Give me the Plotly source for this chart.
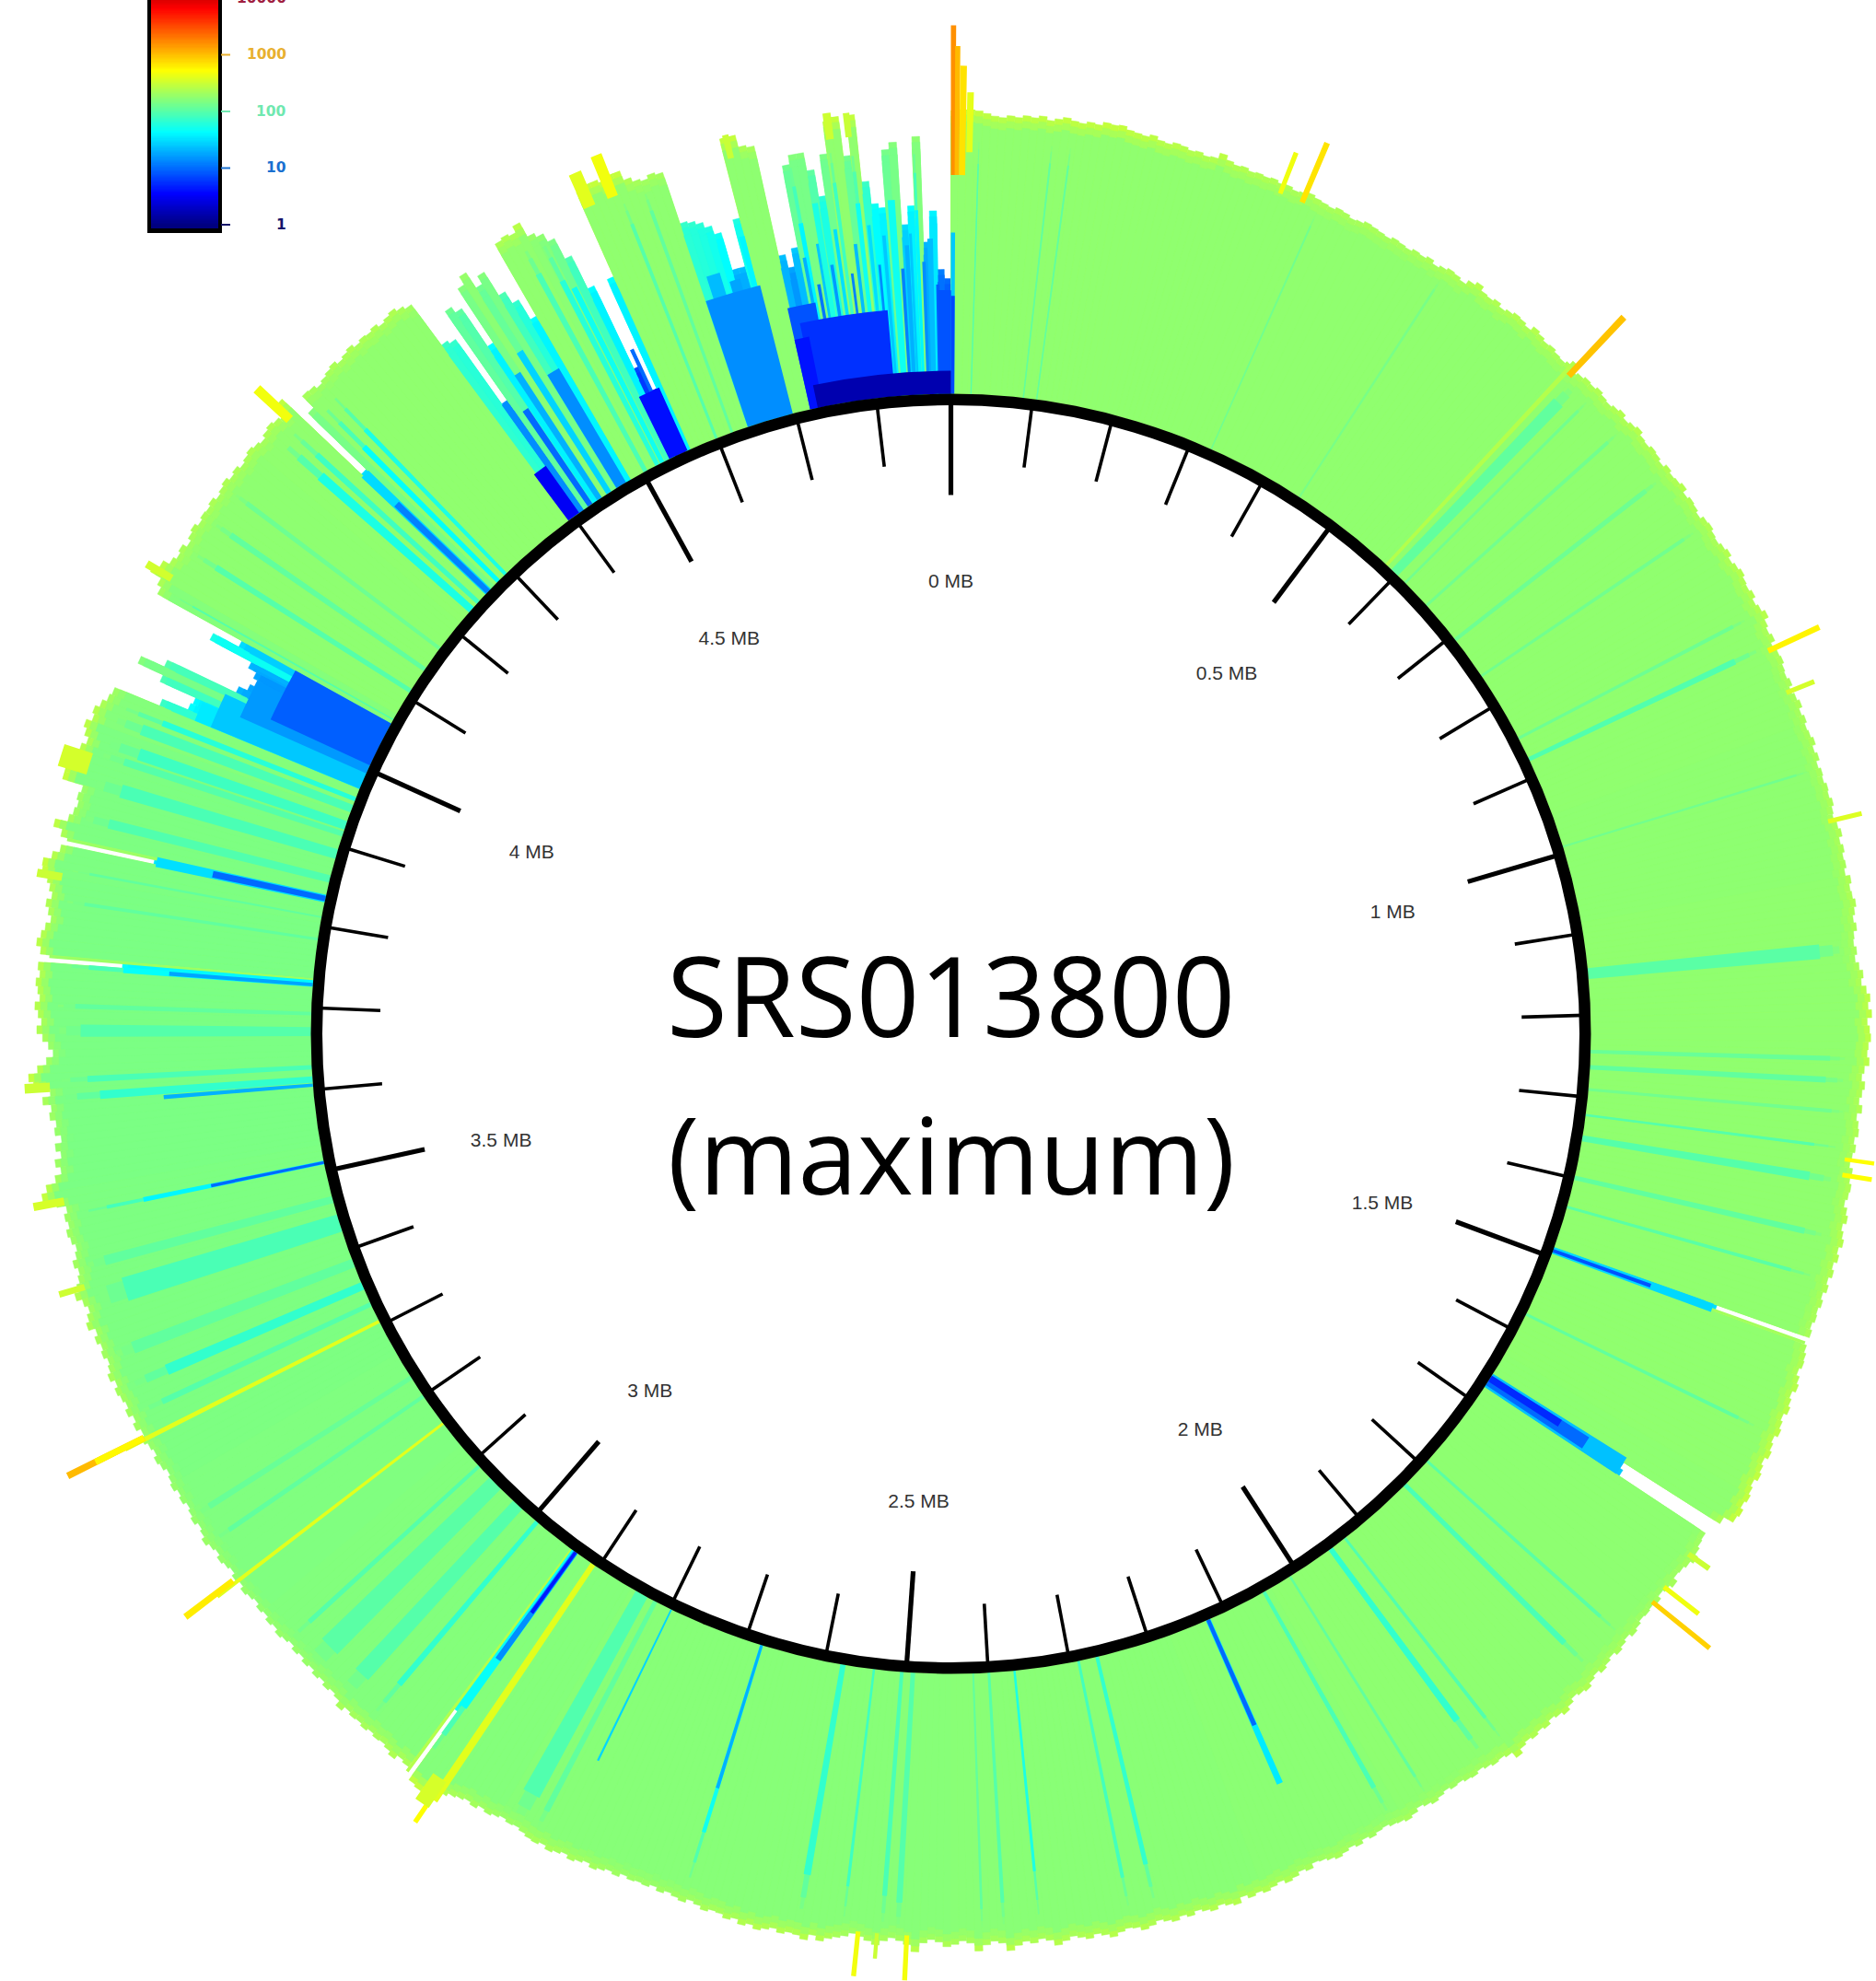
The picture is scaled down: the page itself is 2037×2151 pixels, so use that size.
import math
import numpy as np
import plotly.graph_objects as go

W, H = 2037, 2151
CX, CY = 1032.5, 1122.5      # circle centre on the page
RING_PX, PX_PER_DECADE = 695.0, 125.0
LOW = -RING_PX / PX_PER_DECADE
CMIN, CMAX = 0.0, 4.36
GENOME_MB = 4.891
JET = [[0, "#000080"], [0.125, "#0000ff"], [0.375, "#00ffff"], [0.625, "#ffff00"], [0.875, "#ff0000"], [1, "#800000"]]

# log10(maximum coverage) at the outer edge, one value per half degree clockwise from 0 MB
rim = [
 2.46,2.47,2.47,2.46,2.44,2.42,2.41,2.43,2.42,2.44,2.43,2.45,2.42,2.44,2.46,2.44,2.43,2.45,2.44,2.47,
 2.46,2.47,2.44,2.43,2.42,2.44,2.41,2.40,2.42,2.41,2.39,2.40,2.38,2.39,2.44,2.40,2.38,2.39,2.37,2.38,
 2.37,2.38,2.36,2.37,2.35,2.36,2.38,2.36,2.35,2.34,2.36,2.35,2.33,2.34,2.36,2.35,2.34,2.33,2.35,2.34,
 2.33,2.35,2.34,2.36,2.33,2.35,2.37,2.36,2.34,2.38,2.41,2.37,2.36,2.38,2.35,2.37,2.39,2.38,2.36,2.40,
 2.38,2.36,2.37,2.35,2.34,2.36,2.33,2.35,2.37,2.36,2.38,2.36,2.35,2.37,2.39,2.36,2.38,2.40,2.37,2.36,
 2.38,2.37,2.35,2.38,2.36,2.37,2.39,2.35,2.37,2.36,2.34,2.37,2.38,2.36,2.35,2.37,2.39,2.36,2.38,2.40,
 2.38,2.37,2.39,2.36,2.38,2.41,2.37,2.35,2.37,2.33,2.35,2.36,2.34,2.33,2.35,2.32,2.34,2.36,2.33,2.35,
 2.33,2.34,2.36,2.33,2.35,2.32,2.34,2.33,2.35,2.34,2.36,2.34,2.33,2.35,2.37,2.34,2.36,2.34,2.35,2.33,
 2.37,2.35,2.36,2.38,2.36,2.34,2.36,2.33,2.32,2.34,2.32,2.35,2.38,2.36,2.40,2.43,2.41,2.44,2.40,2.42,
 2.43,2.41,2.40,2.42,2.38,2.36,2.39,2.37,2.35,2.38,2.34,2.36,2.37,2.34,2.36,2.34,2.33,2.36,2.35,2.37,
 2.36,2.34,2.37,2.39,2.36,2.38,2.40,2.37,2.39,2.36,2.38,2.35,2.37,2.34,2.36,2.34,2.35,2.33,2.35,1.50,
 2.35,2.37,2.38,2.36,2.39,2.41,2.38,2.40,2.42,2.39,2.41,2.43,2.40,2.42,2.44,2.41,2.43,2.45,2.42,2.44,
 2.46,2.44,2.47,2.45,2.36,1.37,1.40,2.30,2.31,2.33,2.36,2.33,2.31,2.30,2.34,2.31,2.29,2.32,2.30,2.31,
 2.30,2.32,2.34,2.31,2.33,2.35,2.32,2.34,2.36,2.33,2.35,2.38,2.36,2.34,2.37,2.40,2.37,2.35,2.38,2.36,
 2.38,2.36,2.38,2.42,2.36,2.34,2.35,2.33,2.31,2.33,2.32,2.30,2.31,2.29,2.31,2.33,2.31,2.29,2.32,2.34,
 2.32,2.31,2.29,2.30,2.32,2.30,2.33,2.31,2.33,2.35,2.33,2.31,2.30,2.34,2.32,2.35,2.37,2.34,2.36,2.38,
 2.36,2.38,2.35,2.40,2.38,2.36,2.39,2.37,2.35,2.38,2.36,2.39,2.37,2.35,2.38,2.40,2.37,2.36,2.38,2.41,
 2.38,2.36,2.39,2.37,2.35,2.38,2.41,2.36,2.34,2.37,2.35,2.38,2.42,2.35,2.33,2.36,2.41,2.34,2.32,2.35,
 2.37,2.33,2.31,2.34,2.42,2.36,2.33,2.31,2.34,2.38,2.35,2.32,2.30,2.33,2.35,2.37,2.40,2.36,2.41,2.38,
 2.37,2.39,2.36,2.38,2.40,2.37,2.39,2.35,2.37,2.34,2.33,2.35,2.32,2.30,2.33,2.31,2.29,2.31,2.28,2.30,
 2.29,2.30,2.28,2.31,2.29,2.31,2.33,2.30,2.32,2.34,2.31,2.33,2.35,2.32,2.34,2.33,2.31,2.29,2.30,2.28,
 2.30,2.32,2.30,2.33,2.31,2.33,2.35,2.38,2.46,2.47,2.47,2.45,1.72,2.36,2.34,2.38,2.35,2.33,2.34,2.32,
 2.34,2.32,2.33,2.31,2.35,2.30,2.28,2.30,2.27,2.29,2.26,2.28,2.25,2.27,2.24,2.26,2.28,2.25,2.27,2.24,
 2.26,2.23,2.25,2.27,2.24,2.26,2.23,2.25,2.27,2.24,2.26,2.29,2.26,2.24,2.27,2.25,2.23,2.26,2.24,2.27,
 2.25,2.23,2.26,2.28,2.25,2.27,2.30,2.27,2.31,2.28,2.32,2.29,2.31,2.33,2.30,2.34,2.31,2.29,2.32,2.30,
 2.33,2.30,2.36,2.33,2.30,2.33,2.38,2.34,2.31,2.29,2.32,2.28,2.26,2.29,2.31,2.28,2.30,2.27,2.35,2.46,
 2.41,2.32,2.26,2.30,2.24,2.28,2.22,2.27,2.25,2.30,2.28,2.35,2.28,2.42,2.46,2.38,2.30,2.24,2.28,2.33,
 2.38,2.34,2.37,2.40,2.36,2.38,2.40,2.37,2.39,1.66,2.38,2.42,2.39,2.36,2.32,2.35,2.38,2.34,2.37,2.40,
 2.46,2.47,2.40,2.34,1.52,2.36,2.44,2.33,2.30,2.28,2.30,2.28,2.47,2.47,2.47,2.47,2.40,2.36,2.40,2.43,
 2.38,2.40,2.36,2.32,2.30,1.88,1.64,1.62,1.96,2.20,1.98,1.32,1.24,1.20,1.24,1.32,1.73,1.48,2.32,2.36,
 2.47,2.42,2.36,2.33,2.35,2.31,2.34,2.36,2.33,2.35,2.34,2.36,2.33,2.35,2.37,2.34,2.36,2.33,2.35,2.37,
 2.35,2.33,2.36,2.38,2.36,2.34,2.45,1.50,2.20,2.34,2.33,2.30,2.32,2.34,2.36,2.33,2.35,2.37,2.34,2.36,
 2.35,2.37,2.34,2.36,2.38,2.35,2.32,1.88,1.85,1.16,2.10,2.04,1.64,2.20,2.28,2.12,2.20,1.96,1.84,1.64,
 2.36,2.38,2.36,2.42,2.28,2.24,2.16,1.96,1.64,0.84,0.60,1.64,2.44,2.47,2.47,2.44,2.47,2.47,2.38,2.34,
 2.32,2.35,2.33,1.86,1.84,1.81,1.76,1.68,1.34,1.34,1.76,2.47,2.47,2.36,2.34,1.36,1.24,1.40,2.12,2.20,
 2.20,2.04,1.80,2.16,2.44,2.47,2.12,2.47,1.88,1.68,1.64,2.14,2.20,1.48,1.64,2.24,1.32,1.59,1.08,1.00,
]

# typical log10 coverage of the body, one value per ten degrees
body_typical = [
 2.25,2.25,2.25,2.25,2.25,2.25,2.25,2.24,2.25,2.25,2.25,2.25,
 2.24,2.24,2.24,2.23,2.22,2.22,2.21,2.21,2.21,2.20,2.19,2.18,
 2.17,2.17,2.16,2.16,2.17,2.20,2.24,2.25,2.25,2.25,2.24,2.25,
]

# narrower runs of a different coverage: centre (deg), width (deg), log10 coverage
streak_clock = [
 1.8,6.5,7.7,24,33,42.9,43.9,45.2,48,52,56,62.5,64.6,73,84.6,91.6,93,95,97.3,99.4,103,105.7,109.8,109.8,109.9,116,
 122.8,122.8,122.6,131.9,134.8,142,143.6,148,150.7,156.3,156.3,166.8,168.5,174.3,176.6,178,
 183.4,184.4,186.9,189.7,197.2,197.2,205.9,207.5,208.9,214,215.9,215.9,215.9,216.4,220.3,222.6,225.4,227.5,232.5,235.5,237.5,
 243.3,245,246.8,249,252.8,255,258.4,258.4,265.4,265.9,267,270.2,271.8,274.4,274.4,274.9,278.5,280.5,282.2,282.2,282.4,284,
 286.3,288.2,289,290.6,291.5,296.9,295.5,293.8,293.2,297.8,299.4,302.4,304.7,307,311.5,312.4,313.7,313.7,315,315.9,
 323.9,324.7,325.7,326.7,327.7,329,329.7,331.5,332.7,333.2,334.8,335,338.5,340,
 343.6,342.6,344,345.3,348.4,347.9,351.5,354,359.5,349.5,350.7,352.2,353.6,355.9,356.8,357.6,358.5,0.15,0.15,
 349.3,350,350.4,351.2,351.8,352.6,353.1,354.2,354.7,355.2,356.4,357.1,358,359,
]
streak_width = [
 .12,.15,.15,.15,.2,.3,1.0,.25,.3,.4,.3,.3,.5,.2,1.2,.4,.5,.3,.25,.7,.5,.3,.6,.3,.2,.3,
 1.4,1.0,.6,.3,.5,.3,.6,.25,.4,.35,.45,.4,.3,.25,.3,.2,
 .5,.4,.25,.6,.25,.35,.15,.5,1.5,.5,.6,.45,.3,.2,.5,1.4,1.8,.4,.25,.4,.5,
 .3,.5,.9,1.0,2.0,.8,.4,.25,.3,.7,.5,1.0,.4,.5,.3,.2,.3,.2,.7,.5,.2,.8,
 1.1,.6,1.0,.9,.5,4.2,3.0,2.6,1.4,.3,.15,.5,.5,.4,.8,.5,.7,.5,.5,.4,
 1.2,.5,.5,.5,.5,1.0,.5,.5,.5,.4,1.8,.3,.3,.3,
 4.2,1.0,.8,.4,2.2,1.2,7.0,12.0,1.0,.4,.4,.3,.4,.5,.3,.3,.4,.3,.3,
 .25,.25,.2,.25,.25,.2,.25,.25,.2,.25,.25,.2,.25,.25,
]
streak_value = [
 2.0,2.05,2.05,2.12,2.15,2.4,2.05,2.12,2.12,2.1,2.12,2.1,1.98,2.12,2.02,2.08,2.05,2.12,2.0,2.0,2.05,2.02,1.47,.9,2.33,2.05,
 1.37,1.0,.72,2.02,1.95,1.98,1.85,2.05,1.95,1.0,1.55,1.85,1.92,1.75,2.0,2.05,
 2.0,1.95,1.9,1.85,1.3,1.7,1.46,2.05,1.98,2.6,1.66,1.15,.65,2.4,1.85,2.0,2.02,2.0,2.6,2.05,2.08,
 2.6,2.0,1.85,2.05,1.95,2.05,1.6,1.0,1.3,1.85,1.95,2.0,2.05,1.65,1.25,2.3,2.05,2.05,1.5,1.0,2.3,1.98,
 1.95,2.0,1.9,1.95,1.8,.95,1.2,1.4,1.55,1.3,2.0,2.0,2.05,2.1,1.75,1.9,1.48,1.1,1.65,1.75,
 .5,1.15,1.0,1.3,1.45,1.15,1.6,1.95,1.8,1.7,.6,1.0,2.0,2.05,
 1.15,1.35,1.25,1.6,.9,.62,.75,.2,.9,1.6,1.75,1.9,1.7,1.7,1.3,1.6,1.35,1.4,.85,
 1.3,1.05,1.4,1.2,1.5,1.1,1.35,1.5,1.15,1.4,1.1,1.4,1.15,.95,
]

# peaks that rise past the rim: centre (deg), width (deg), log10 coverage, lower end
spike_clock = [0.15,0.4,0.75,1.2,21.4,22.9,43.2,64.9,67.8,76.4,98,99,125.2,127.8,129,182.8,184.7,185.9,214.5,214.2,
               232.7,243.4,243.4,253.7,259.3,266.6,280,287.4,300.3,312.9,336.4,338,345.9,352.3,353.5]
spike_width = [.3,.3,.4,.4,.3,.35,.4,.35,.3,.3,.25,.3,.35,.3,.3,.3,.25,.3,1.0,.3,
               .4,.4,.4,.4,.5,.6,.5,1.4,.5,.6,.8,.7,.4,.5,.4]
spike_value = [3.2,3.02,2.85,2.62,2.66,2.84,2.98,2.77,2.54,2.58,2.72,2.72,2.5,2.66,2.92,2.68,2.5,2.67,2.55,2.72,
               2.8,3.02,2.75,2.51,2.55,2.5,2.5,2.54,2.53,2.67,2.6,2.67,2.49,2.51,2.49]
spike_base = [1.9,1.9,1.9,2.1,2.28,2.28,2.28,2.28,2.28,2.28,2.28,2.28,2.28,2.28,2.28,2.28,2.28,2.28,2.28,2.28,
              2.28,2.28,2.28,2.28,2.28,2.28,2.28,2.28,2.28,2.28,2.28,2.28,2.28,2.28,2.28]

label_mb = [0, 0.5, 1, 1.5, 2, 2.5, 3, 3.5, 4, 4.5]
minor_tick_mb = [m / 10 for m in range(49) if m % 5]
major_tick_mb = [m / 10 for m in range(49) if m % 5 == 0]

legend_ticks = [0, 1, 2, 3]
legend_labels = ["1", "10", "100", "1000"]
legend_colors = ["#14146a", "#1a70d0", "#70e8b0", "#e8b030"]

fig = go.Figure()
theta_of = lambda mb: mb * 360 / GENOME_MB


def bar_marker(vals, line=0.5):
    m = dict(color=vals, cmin=CMIN, cmax=CMAX, colorscale=JET)
    if line:
        m["line"] = dict(color=vals, cmin=CMIN, cmax=CMAX, colorscale=JET, width=line)
    else:
        m["line"] = dict(width=0)
    return m


rim_arr = np.array(rim)
bin_theta = np.arange(len(rim)) * 0.5 + 0.25
typical = np.repeat(body_typical, 20)
mid_height = rim_arr - 0.05
mid_shade = np.minimum((typical + rim_arr) / 2, mid_height)
body_height = rim_arr - 0.11
body_shade = np.minimum(typical, body_height + 0.06)
fig.add_trace(go.Barpolar(theta=bin_theta, r=rim_arr, width=0.5, base=0, marker=bar_marker(rim_arr), hoverinfo="skip"))
fig.add_trace(go.Barpolar(theta=bin_theta, r=mid_height, width=0.5, base=0, marker=bar_marker(mid_shade), hoverinfo="skip"))
fig.add_trace(go.Barpolar(theta=bin_theta, r=body_height, width=0.5, base=0, marker=bar_marker(body_shade), hoverinfo="skip"))

# teal streaks thin out towards the rim: each one is paired with paler, narrower runs above it
st_c, st_w, st_v = [], [], []
for c, w, v in zip(streak_clock, streak_width, streak_value):
    in_body = rim[int((c % 360) * 2)] >= 2.2
    if in_body and 1.6 <= v < 2.2 and w <= 2.0:
        st_c += [c, c, c]
        st_w += [w * 0.8, w * 0.6, w * 0.4]
        st_v += [v, (v + 2.25) / 2, (v + 3 * 2.25) / 4]
    else:
        st_c.append(c)
        st_w.append(w)
        st_v.append(v)
order = np.argsort(-np.array(st_v), kind="stable")
sv = np.array(st_v)[order]
fig.add_trace(go.Barpolar(theta=np.array(st_c)[order], r=sv, width=np.array(st_w)[order], base=0,
                          marker=bar_marker(sv, 0), hoverinfo="skip"))

# black ring
fig.add_trace(go.Barpolar(theta=[0], r=[0.1], base=[-0.1], width=[360], marker=dict(color="black", line=dict(width=0)),
                          hoverinfo="skip"))


def tick_trace(mbs, inner, width):
    th, rr = [], []
    for m in mbs:
        th += [theta_of(m), theta_of(m), None]
        rr += [-0.06, inner, None]
    return go.Scatterpolar(theta=th, r=rr, mode="lines", line=dict(color="black", width=width), hoverinfo="skip")


fig.add_trace(tick_trace(minor_tick_mb, -0.60, 3.6))
fig.add_trace(tick_trace(major_tick_mb, -0.88, 5.2))
fig.add_trace(go.Scatterpolar(theta=[theta_of(m) for m in label_mb], r=[-1.56] * len(label_mb), mode="text",
                              text=[f"{m} MB" for m in label_mb], textposition="bottom center",
                              textfont=dict(family="Liberation Sans", size=21, color="#333333"), hoverinfo="skip"))

R_MAIN = 1004.0
hidden = dict(
    angularaxis=dict(visible=False, direction="clockwise", rotation=90, thetaunit="degrees"),
    bgcolor="rgba(0,0,0,0)",
    barmode="overlay",
    hole=0,
)
layout = dict(
    polar=dict(domain=dict(x=[(CX - R_MAIN) / W, (CX + R_MAIN) / W],
                           y=[(H - CY - R_MAIN) / H, (H - CY + R_MAIN) / H]),
               radialaxis=dict(visible=False, range=[LOW, (R_MAIN - RING_PX) / PX_PER_DECADE]), **hidden),
)


# extra narrow polar windows let the peaks reach beyond the main circle
def sector_bbox(s0, s1):
    arc = s1 - s0
    a0 = s0 % 360
    a1 = a0 + arc
    c0, c1 = math.cos(math.radians(a0)), math.cos(math.radians(a1))
    n0, n1 = math.sin(math.radians(a0)), math.sin(math.radians(a1))
    y1 = 1 if (a0 <= 90 <= a1 or (a0 > 90 and a1 >= 450)) else (0 if n0 <= 0 and n1 <= 0 else max(n0, n1))
    x0 = -1 if (a0 <= 180 <= a1 or (a0 > 180 and a1 >= 540)) else (0 if c0 >= 0 and c1 >= 0 else min(c0, c1))
    y0 = -1 if (a0 <= 270 <= a1 or (a0 > 270 and a1 >= 630)) else (0 if n0 >= 0 and n1 >= 0 else min(n0, n1))
    x1 = 1 if a1 >= 360 else (0 if c0 <= 0 and c1 <= 0 else max(c0, c1))
    return x0, y0, x1, y1


idx = sorted(range(len(spike_clock)), key=lambda i: spike_clock[i])
groups = [[idx[0]]]
for i in idx[1:]:
    if spike_clock[i] - spike_clock[groups[-1][-1]] < 3:
        groups[-1].append(i)
    else:
        groups.append([i])

for n, g in enumerate(groups, start=2):
    lo = min(spike_clock[i] - spike_width[i] for i in g) - 0.6
    hi = max(spike_clock[i] + spike_width[i] for i in g) + 0.6
    s0, s1 = 90 - hi, 90 - lo
    x0, y0, x1, y1 = sector_bbox(s0, s1)
    R = RING_PX + PX_PER_DECADE * max(spike_value[i] for i in g) + 2
    py = H - CY
    limits = [R]
    if x1 > 0: limits.append((W - CX) / x1)
    if x0 < 0: limits.append(CX / -x0)
    if y1 > 0: limits.append((H - py) / y1)
    if y0 < 0: limits.append(py / -y0)
    R = min(limits) - 0.01
    name = f"polar{n}"
    layout[name] = dict(
        domain=dict(x=[(CX + R * x0) / W, (CX + R * x1) / W], y=[(py + R * y0) / H, (py + R * y1) / H]),
        sector=[s0, s1],
        radialaxis=dict(visible=False, range=[LOW, (R - RING_PX) / PX_PER_DECADE]),
        **hidden,
    )
    g2 = sorted(g, key=lambda i: -spike_value[i])
    vals = [spike_value[i] for i in g2]
    bases = [spike_base[i] for i in g2]
    fig.add_trace(go.Barpolar(subplot=name, theta=[spike_clock[i] for i in g2],
                              r=[v - b for v, b in zip(vals, bases)], base=bases,
                              width=[spike_width[i] for i in g2], marker=bar_marker(vals, 0), hoverinfo="skip"))

# colour key
key_levels = np.arange(-0.065, 3.98, 0.02)
fig.add_trace(go.Heatmap(z=[[v] for v in key_levels], x=[0], y=key_levels, zmin=CMIN, zmax=CMAX, colorscale=JET,
                         showscale=False, hoverinfo="skip", xaxis="x", yaxis="y"))
annotations = []
for t, lab, col in zip(legend_ticks, legend_labels, legend_colors):
    annotations.append(dict(x=313 / W, y=t, xref="paper", yref="y", text=f"<b>{lab}</b>", showarrow=False, xanchor="right",
                            yanchor="middle", font=dict(family="DejaVu Sans", size=15.5, color=col)))
annotations.append(dict(x=313 / W, y=1 + 2 / H, xref="paper", yref="paper", text="<b>10000</b>", showarrow=False, xanchor="right",
                        yanchor="middle", font=dict(family="DejaVu Sans", size=15.5, color="#a02040")))
annotations.append(dict(x=CX / W, y=1 - 1079 / H, xref="paper", yref="paper", text="SRS013800", showarrow=False,
                        font=dict(family="Open Sans", size=120, color="black")))
annotations.append(dict(x=CX / W, y=1 - 1252 / H, xref="paper", yref="paper", text="(maximum)", showarrow=False,
                        font=dict(family="Open Sans", size=116, color="black")))
shapes = [dict(type="line", xref="paper", yref="y", x0=240 / W, x1=250 / W, y0=t, y1=t, line=dict(color=c, width=2))
          for t, c in zip(legend_ticks, legend_colors)]

fig.update_layout(
    width=W, height=H, margin=dict(l=0, r=0, t=0, b=0), paper_bgcolor="white", plot_bgcolor="white",
    showlegend=False, autosize=False,
    xaxis=dict(domain=[164 / W, 237 / W], range=[-0.5, 0.5], showticklabels=False, ticks="", showgrid=False, zeroline=False,
               showline=True, linecolor="black", linewidth=5, mirror=False),
    yaxis=dict(domain=[1 - 248 / H, 1], range=[-0.065, 3.967], showticklabels=False, ticks="", showgrid=False, zeroline=False,
               showline=True, linecolor="black", linewidth=4, mirror=True),
    annotations=annotations, shapes=shapes,
    **layout,
)
fig.write_html("out.html", config={"displayModeBar": False},
               post_script="document.body.style.margin='0';document.body.style.overflow='hidden';")
